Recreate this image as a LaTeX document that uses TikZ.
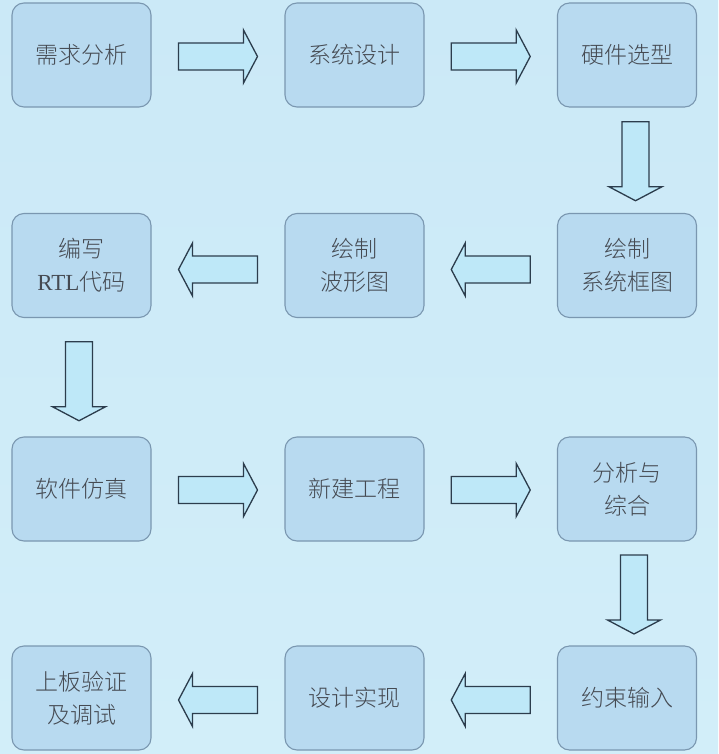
\documentclass[tikz,border=0pt]{standalone}
\usepackage{fontspec}
\setmainfont{Noto Sans CJK SC Light}
\newfontfamily\latinfont{Liberation Serif}
\usetikzlibrary{calc}
\definecolor{bgtop}{HTML}{CBE9F7}
\definecolor{bgbot}{HTML}{D2EEF9}
\definecolor{boxfill}{HTML}{B8DAF0}
\definecolor{boxline}{HTML}{7A97B0}
\definecolor{arrfill}{HTML}{BEE8F8}
\definecolor{arrline}{HTML}{2C3D4D}
\definecolor{txt}{HTML}{454A52}
\tikzset{
  stepbox/.style={draw=boxline, fill=boxfill, line width=1.1pt, rounded corners=12pt,
    minimum width=139pt, minimum height=104pt, inner sep=0pt, align=center,
    text=txt, font=\fontsize{23}{33}\selectfont},
  blockarrow/.pic={
    \draw[draw=arrline, fill=arrfill, line width=1.3pt, line join=miter]
      (-39.5,-13.5) -- (25.5,-13.5) -- (25.5,-26.5) -- (39.5,0) -- (25.5,26.5)
      -- (25.5,13.5) -- (-39.5,13.5) -- cycle;
  }
}
\begin{document}
\begin{tikzpicture}[x=1pt,y=-1pt]
\shade[top color=bgtop, bottom color=bgbot] (0,0) rectangle (718,754);
\useasboundingbox (0,0) rectangle (718,754);
% row 1
\node[stepbox] (n1) at (81.5,55) {需求分析};
\node[stepbox] (n2) at (354.5,55) {系统设计};
\node[stepbox] (n3) at (627,55) {硬件选型};
% row 2
\node[stepbox] (n4) at (627,265.5) {绘制\\系统框图};
\node[stepbox] (n5) at (354.5,265.5) {绘制\\波形图};
\node[stepbox] (n6) at (81.5,265.5) {编写\\{\latinfont RTL}代码};
% row 3
\node[stepbox] (n7) at (81.5,489) {软件仿真};
\node[stepbox] (n8) at (354.5,489) {新建工程};
\node[stepbox] (n9) at (627,489) {分析与\\综合};
% row 4
\node[stepbox] (n10) at (627,698) {约束输入};
\node[stepbox] (n11) at (354.5,698) {设计实现};
\node[stepbox] (n12) at (81.5,698) {上板验证\\及调试};
% arrows
\pic at ($(n1.east)!0.5!(n2.west)+(0,1.5)$) {blockarrow};
\pic at ($(n2.east)!0.5!(n3.west)+(0,1.5)$) {blockarrow};
\pic[rotate=-90] at ($(n3.south)!0.5!(n4.north)+(8.5,1)$) {blockarrow};
\pic[rotate=180] at ($(n4.west)!0.5!(n5.east)+(0,4)$) {blockarrow};
\pic[rotate=180] at ($(n5.west)!0.5!(n6.east)+(0,4)$) {blockarrow};
\pic[rotate=-90] at ($(n6.south)!0.5!(n7.north)+(-2.5,4)$) {blockarrow};
\pic at ($(n7.east)!0.5!(n8.west)+(0,1)$) {blockarrow};
\pic at ($(n8.east)!0.5!(n9.west)+(0,1)$) {blockarrow};
\pic[rotate=-90] at ($(n9.south)!0.5!(n10.north)+(7,1)$) {blockarrow};
\pic[rotate=180] at ($(n10.west)!0.5!(n11.east)+(0,2)$) {blockarrow};
\pic[rotate=180] at ($(n11.west)!0.5!(n12.east)+(0,2)$) {blockarrow};
\end{tikzpicture}
\end{document}
